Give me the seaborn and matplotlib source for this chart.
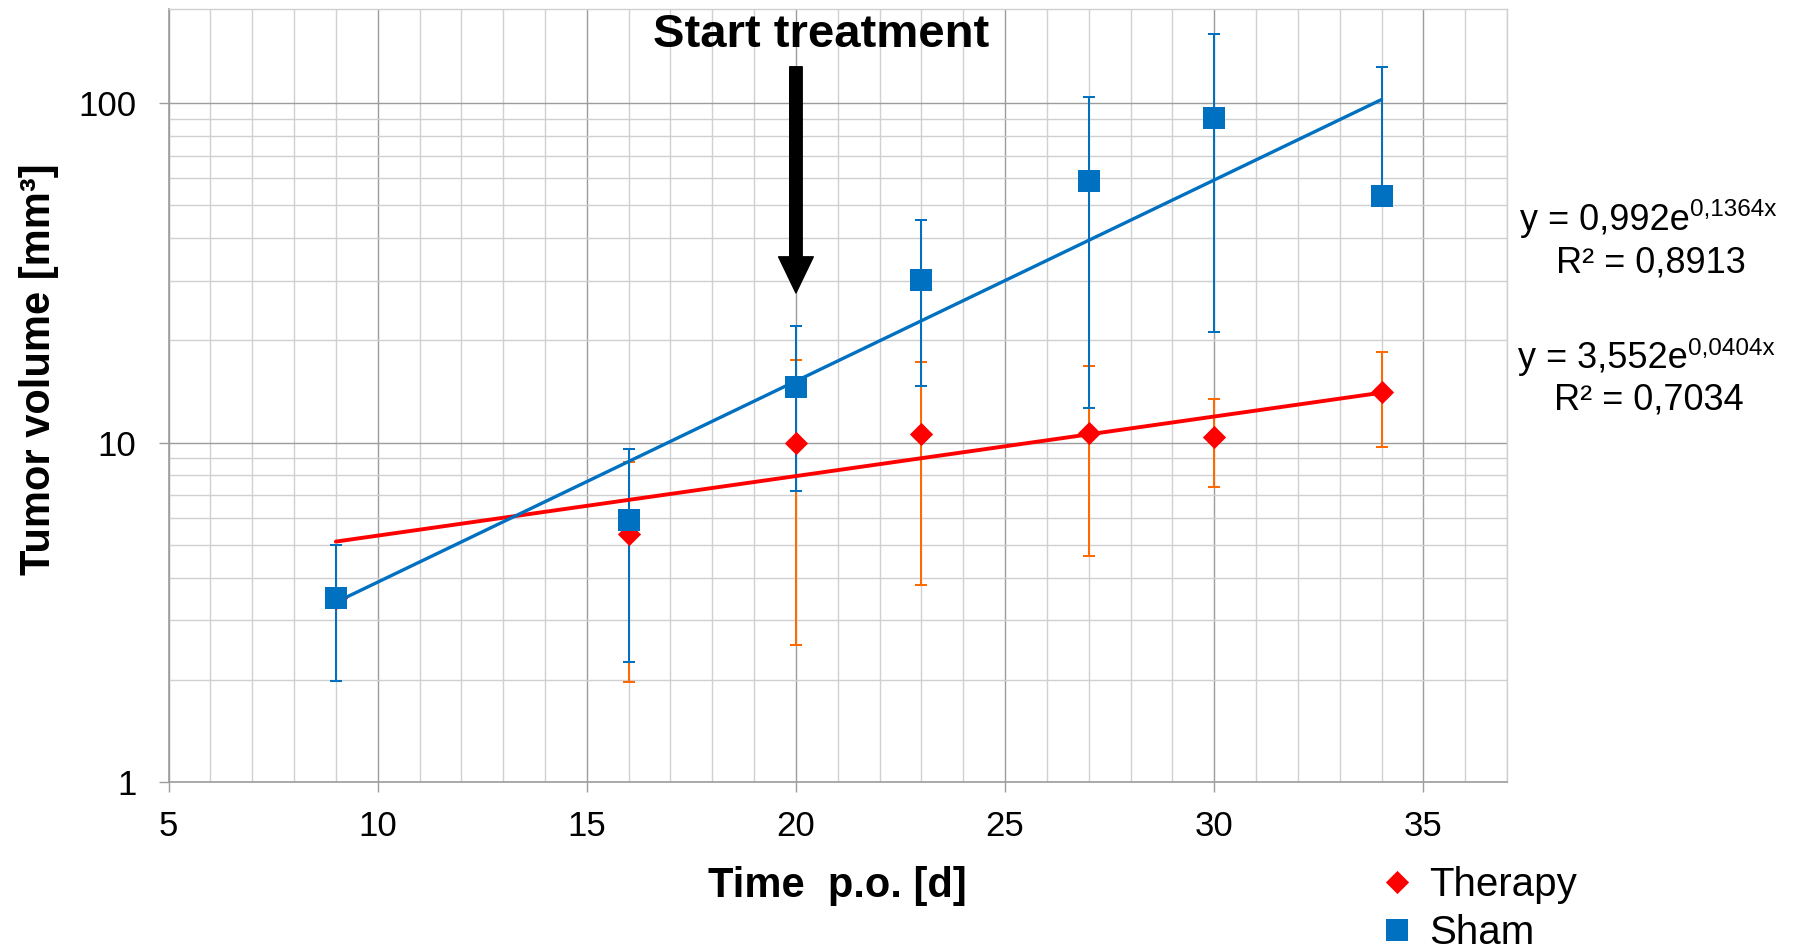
import numpy as np
import pandas as pd
import matplotlib
matplotlib.use("Agg")
import matplotlib.pyplot as plt
import seaborn as sns
from matplotlib.path import Path
from matplotlib.lines import Line2D
from matplotlib.ticker import FixedLocator, LogLocator, MultipleLocator, NullFormatter, FuncFormatter

# ---------------- data ----------------
days = [9, 16, 20, 23, 27, 30, 34]
sham_mean = [3.48, 5.92, 14.6, 30.1, 58.8, 90.7, 53.3]
sham_upper = [5.0, 9.58, 22.0, 45.3, 104.0, 160.0, 128.0]
sham_lower = [1.98, 2.26, 7.18, 14.7, 12.65, 21.2, 53.3]
therapy_mean = [3.48, 5.38, 10.0, 10.6, 10.65, 10.4, 14.1]
therapy_upper = [5.0, 8.75, 17.5, 17.3, 16.8, 13.4, 18.5]
therapy_lower = [1.98, 1.97, 2.54, 3.8, 4.62, 7.41, 9.72]

# exponential trend lines y = a * exp(b * x), with R^2
fit_sham = (0.992, 0.1364, 0.8913)
fit_therapy = (3.552, 0.0404, 0.7034)
fit_range = (9, 34)

x_ticks = [5, 10, 15, 20, 25, 30, 35]
y_ticks = [1, 10, 100]
treatment_day = 20
series_labels = ["Therapy", "Sham"]

# ---------------- style ----------------
sns.set_theme(style="white")
plt.rcParams["font.family"] = ["Liberation Sans", "DejaVu Sans"]
plt.rcParams["text.color"] = "black"
plt.rcParams["axes.labelcolor"] = "black"
plt.rcParams["xtick.labelcolor"] = "black"
plt.rcParams["ytick.labelcolor"] = "black"

BLUE = "#0070C0"
RED = "#FF0000"
ORANGE = "#FF6A00"
MAJ = "#9c9c9c"
MIN = "#d0d0d0"

fig = plt.figure(figsize=(17.93, 9.50), dpi=100)
ax = fig.add_axes([0.094, 0.1768, 0.7465, 0.8134])
ax.set_yscale("log")
ax.set_xlim(5, 37)
ax.set_ylim(1, 189)

df_sham = pd.DataFrame({"day": days, "vol": sham_mean})
df_ther = pd.DataFrame({"day": days, "vol": therapy_mean})

# error bars
t_m = np.array(therapy_mean)
s_m = np.array(sham_mean)
ax.errorbar(days, t_m, yerr=[t_m - np.array(therapy_lower), np.array(therapy_upper) - t_m],
            fmt="none", ecolor=ORANGE, elinewidth=1.45, capsize=4.3, capthick=1.45, zorder=3)
ax.errorbar(days, s_m, yerr=[s_m - np.array(sham_lower), np.array(sham_upper) - s_m],
            fmt="none", ecolor=BLUE, elinewidth=1.45, capsize=4.3, capthick=1.45, zorder=3.1)

# trend lines
for (a, b, _), col, lw in [(fit_therapy, RED, 2.8), (fit_sham, BLUE, 2.4)]:
    xs = np.linspace(fit_range[0], fit_range[1], 50)
    sns.lineplot(x=xs, y=a * np.exp(b * xs), color=col, lw=lw, ax=ax, zorder=3.5)

# markers
diamond = Path([(0, 1), (1, 0), (0, -1), (-1, 0), (0, 1)],
               [Path.MOVETO, Path.LINETO, Path.LINETO, Path.LINETO, Path.CLOSEPOLY])
sns.scatterplot(data=df_ther, x="day", y="vol", marker=diamond, color=RED, s=280,
                linewidth=0, ax=ax, zorder=4)
sns.scatterplot(data=df_sham, x="day", y="vol", marker="s", color=BLUE, s=235,
                linewidth=0, ax=ax, zorder=5)

# axes / grid
ax.xaxis.set_major_locator(FixedLocator(x_ticks))
ax.xaxis.set_minor_locator(MultipleLocator(1))
ax.yaxis.set_major_locator(FixedLocator(y_ticks))
ax.yaxis.set_minor_locator(LogLocator(base=10, subs=range(2, 10)))
ax.yaxis.set_minor_formatter(NullFormatter())
ax.yaxis.set_major_formatter(FuncFormatter(lambda v, p: f"{v:g}"))
ax.grid(which="major", color=MAJ, lw=1.0)
ax.grid(which="minor", color=MIN, lw=1.0)
ax.set_axisbelow(True)
ax.tick_params(which="minor", length=0, bottom=False, left=False)
ax.tick_params(which="major", direction="out", length=7, width=1.0, color=MAJ,
               labelsize=25, labelcolor="black", bottom=True, left=True)
ax.tick_params(axis="x", pad=13)
ax.tick_params(axis="y", pad=16)
for s in ["left", "bottom"]:
    ax.spines[s].set_color(MAJ)
    ax.spines[s].set_linewidth(1.2)
for s in ["top", "right"]:
    ax.spines[s].set_color(MIN)
    ax.spines[s].set_linewidth(1.0)

ax.set_xlabel("Time  p.o. [d]", fontsize=30, fontweight="bold", va="baseline", color="black")
ax.xaxis.set_label_coords(0.5, -0.1484)
ax.set_ylabel("Tumor volume [mm³]", fontsize=30, fontweight="bold", va="baseline", color="black")
ax.yaxis.set_label_coords(-0.0885, 0.5345)

# start treatment annotation
ax.annotate("", xy=(treatment_day, 27.6), xytext=(treatment_day, 128),
            arrowprops=dict(arrowstyle="simple,head_length=0.52,head_width=0.5,tail_width=0.18",
                            mutation_scale=50, color="black", shrinkA=0, shrinkB=0), zorder=6)
fig.text(0.4579, 1 - 46.7 / 950, "Start treatment", ha="center", va="baseline",
         fontsize=34, fontweight="bold", color="black")

# trend equations
def equation(x_left, y_base, x_center, y_base2, fit):
    a, b, r2 = fit
    main = f"y = {a:.3f}e".replace(".", ",")
    sup = f"{b:.4f}x".replace(".", ",")
    t = fig.text(x_left, y_base, main, ha="left", va="baseline", fontsize=26, color="black")
    ax.annotate(sup, xy=(1, 0), xycoords=t, xytext=(0, 15.8), textcoords="offset points",
                ha="left", va="baseline", fontsize=17.5, color="black", annotation_clip=False)
    fig.text(x_center, y_base2, f"R² = {r2:.4f}".replace(".", ","), ha="center",
             va="baseline", fontsize=26, color="black")

equation(1520 / 1793, 1 - 230 / 950, 1651 / 1793, 1 - 272.7 / 950, fit_sham)
equation(1518 / 1793, 1 - 368.5 / 950, 1649 / 1793, 1 - 410 / 950, fit_therapy)

# legend
handles = [Line2D([], [], ls="", marker=diamond, color=RED, markersize=16.7, markeredgewidth=0),
           Line2D([], [], ls="", marker="s", color=BLUE, markersize=15.3, markeredgewidth=0)]
leg = fig.legend(handles, series_labels, loc="upper left",
                 bbox_to_anchor=(1381 / 1793, 1 - 866 / 950),
                 frameon=False, fontsize=29, handlelength=0.78, handletextpad=0.42,
                 labelspacing=0.24, borderpad=0, borderaxespad=0)
for txt in leg.get_texts():
    txt.set_color("black")

fig.savefig("out.png", dpi=100)
